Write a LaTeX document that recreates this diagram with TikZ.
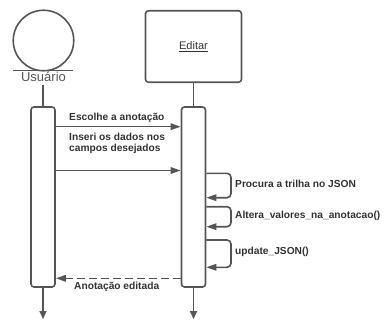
\documentclass[tikz,border=0pt]{standalone}
\usepackage{fontspec}
\setmainfont{Liberation Sans}
\usetikzlibrary{arrows.meta}
\definecolor{ln}{HTML}{555555}
\definecolor{tx}{HTML}{333333}

\begin{document}
\begin{tikzpicture}[x=1pt,y=-1pt,
  line/.style={draw=ln, line width=1.6pt},
  msg/.style={line, -{Triangle[length=10pt,width=6.5pt]}},
  reply/.style={msg, dash pattern=on 8pt off 4pt},
  selfmsg/.style={msg, rounded corners=4pt},
  lbl/.style={font=\bfseries\fontsize{10.2}{11.6}\selectfont, text=tx, inner sep=0pt, align=left},
  bar/.style={line, fill=white, rounded corners=3pt, minimum width=24pt, minimum height=180pt, inner sep=0pt}]
\useasboundingbox (0,0) rectangle (387,320);

% Actor: Usuario
\node[line, circle, minimum size=60.5pt, inner sep=0pt] (head) at (43.5,40.5) {};
\coordinate (hl) at (13,70.7);
\coordinate (hr) at (73,70.7);
\draw[line] (hl) -- (hr);
\node[font=\fontsize{13}{14}\selectfont, text=ln, inner sep=0pt, anchor=base] (user) at (43.5,82) {Usuário};
\coordinate (uTop) at (43,85);

% Object: Editar
\node[line, rounded corners=3pt, minimum width=96pt, minimum height=71.5pt, inner sep=0pt,
      font=\fontsize{11}{13}\selectfont, text=tx] (edit) at (193.5,46.5) {\underline{Editar}};

% Activation bars
\node[bar] (barU) at (43,197) {};
\node[bar] (barE) at (193.5,197) {};

% Lifelines
\coordinate (uEnd) at (43,319);
\coordinate (eEnd) at (193.5,319);
\draw[line] (uTop) -- (barU.north);
\draw[line] (edit.south) -- (barE.north);
\draw[line, -{Triangle[length=8pt,width=7pt]}] (barU.south) -- (uEnd);
\draw[line, -{Triangle[length=8pt,width=7pt]}] (barE.south) -- (eEnd);

% Messages from the user
\draw[msg] (barU.east |- 0,126.7) -- (barE.west |- 0,126.7);
\node[lbl, anchor=base west] (m1) at (69,120.7) {Escolhe a anotação};
\draw[msg] (barU.east |- 0,170.5) -- (barE.west |- 0,170.5);
\node[lbl, anchor=base west] (m2) at (69,151.7) {Inseri os dados nos\\campos desejados};

% Self calls on Editar
\draw[selfmsg] (barE.east |- 0,173.3) -| (231,197.7) -- (barE.east |- 0,197.7);
\node[lbl, anchor=base west] (s1) at (235,187.3) {Procura a trilha no JSON};
\draw[selfmsg] (barE.east |- 0,206.7) -| (231,226.7) -- (barE.east |- 0,226.7);
\node[lbl, anchor=base west] (s2) at (235,218.3) {Altera\_valores\_na\_anotacao()};
\draw[selfmsg] (barE.east |- 0,240) -| (231,267.3) -- (barE.east |- 0,267.3);
\node[lbl, anchor=base west] (s3) at (235,254) {update\_JSON()};

% Reply
\draw[reply] (barE.west |- 0,278.3) -- (barU.east |- 0,278.3);
\node[lbl, anchor=base west] (r1) at (74,289.3) {Anotação editada};
\end{tikzpicture}
\end{document}
